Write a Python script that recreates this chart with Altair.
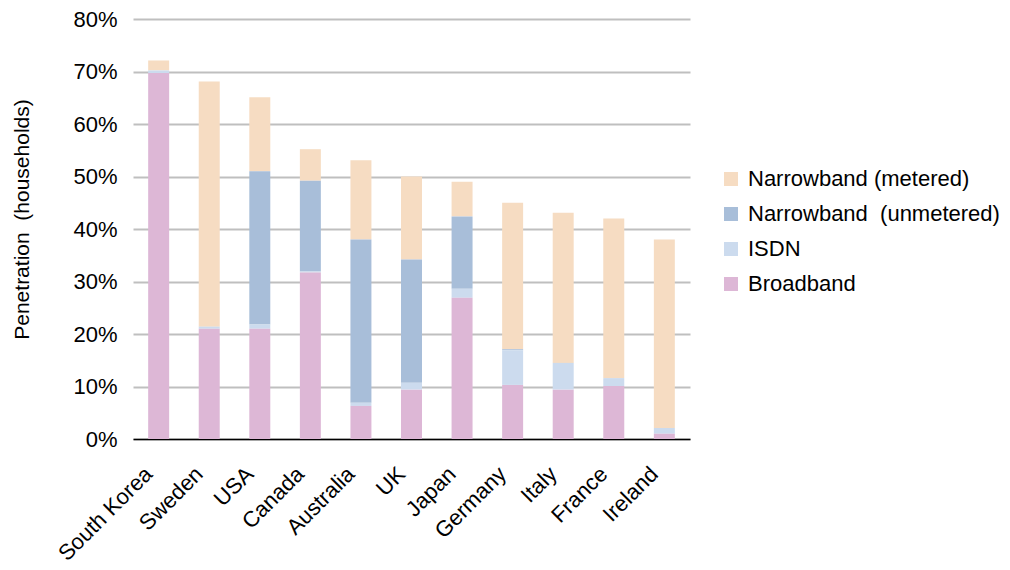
import altair as alt
import pandas as pd

countries = ["South Korea", "Sweden", "USA", "Canada", "Australia", "UK", "Japan",
             "Germany", "Italy", "France", "Ireland"]
broadband = [69.7, 21.0, 21.0, 31.7, 6.3, 9.4, 26.9, 10.3, 9.4, 10.1, 1.0]
isdn = [0.5, 0.4, 0.8, 0.2, 0.6, 1.3, 1.7, 6.6, 5.1, 1.5, 1.1]
unmetered = [0.0, 0.0, 29.2, 17.3, 31.1, 23.5, 13.8, 0.2, 0.0, 0.0, 0.0]
metered = [1.9, 46.7, 14.1, 6.0, 15.1, 15.8, 6.6, 27.9, 28.6, 30.4, 35.9]

series = ["Narrowband (metered)", "Narrowband\u00a0 (unmetered)", "ISDN", "Broadband"]
colors = ["#F6DCC2", "#A8BED9", "#CCDBEE", "#DDB7D6"]
stack_order = {series[3]: 0, series[2]: 1, series[1]: 2, series[0]: 3}

rows = []
for i, c in enumerate(countries):
    for s, vals in zip(series, [metered, unmetered, isdn, broadband]):
        rows.append({"country": c, "series": s, "value": vals[i] / 100.0, "ord": stack_order[s]})
df = pd.DataFrame(rows)

font = "Liberation Sans"

chart = alt.Chart(df).mark_bar().encode(
    x=alt.X("country:N", sort=countries, title=None,
            scale=alt.Scale(paddingInner=0.585, paddingOuter=0.3),
            axis=alt.Axis(labelAngle=-45, labelFontSize=22, labelColor="#000", labelFont=font,
                          ticks=False, domainColor="#000", domainWidth=1.5,
                          labelPadding=24, labelOffset=-17, labelLimit=300)),
    y=alt.Y("value:Q", stack="zero", title="Penetration\u00a0 (households)",
            scale=alt.Scale(domain=[0, 0.8]),
            axis=alt.Axis(format=".0%", values=[0, .1, .2, .3, .4, .5, .6, .7, .8],
                          labelFontSize=22, labelColor="#000", labelFont=font,
                          titleFontSize=21, titleFont=font, titleFontWeight="normal", titleColor="#000",
                          titlePadding=40, titleY=200, labelPadding=16,
                          domain=False, ticks=False, gridColor="#BFBFBF", gridWidth=2)),
    color=alt.Color("series:N", sort=series, scale=alt.Scale(domain=series, range=colors),
                    legend=alt.Legend(title=None, orient="none", legendX=587, legendY=149,
                                      symbolType="square", symbolSize=196, symbolStrokeWidth=0,
                                      labelFontSize=22, labelFont=font, labelColor="#000",
                                      rowPadding=13, labelOffset=6, labelLimit=400)),
    order=alt.Order("ord:Q", sort="ascending"),
).properties(
    width=557, height=420,
    autosize=alt.AutoSizeParams(type="none"),
    padding={"left": 125, "top": 11, "right": 310, "bottom": 130},
).configure_view(stroke=None).configure_axis(gridOpacity=1)

chart.save("out.html", embed_options={"renderer": "svg", "actions": False})
